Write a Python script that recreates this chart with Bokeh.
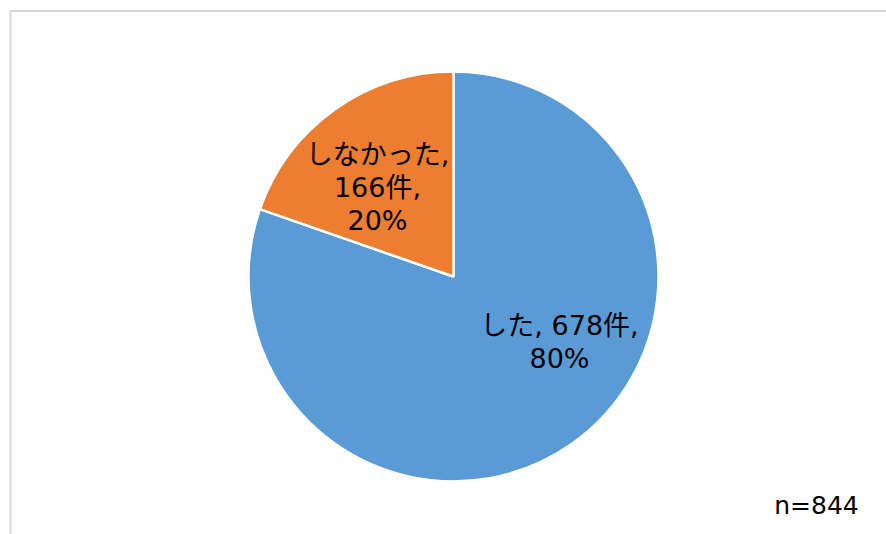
import math
from bokeh.plotting import figure
from bokeh.models import ColumnDataSource
from bokeh.core.properties import value
from bokeh.embed import file_html
from bokeh.resources import INLINE

categories = ["した", "しなかった"]
counts = [678, 166]
colors = ["#5B9BD5", "#ED7D31"]
note = "n=844"

total = sum(counts)
W, H = 886, 534
cx, cy, r = 453, H - 276, 205

starts, ends = [], []
a = math.pi / 2
for c in counts:
    starts.append(a)
    a -= 2 * math.pi * c / total
    ends.append(a)

src = ColumnDataSource(dict(cat=categories, cnt=counts, color=colors,
                            start=starts, end=ends))

p = figure(width=W, height=H, x_range=(0, W), y_range=(0, H),
           output_backend="svg", toolbar_location=None, min_border=0,
           outline_line_color=None)
p.axis.visible = False
p.grid.visible = False
p.background_fill_color = "white"
p.border_fill_color = "white"

# chart area border
p.line(x=[10, 10, W + 5], y=[-5, H - 10.5, H - 10.5], line_color="#D9D9D9", line_width=2)

p.wedge(x=cx, y=cy, radius=r, start_angle="start", end_angle="end",
        direction="clock", fill_color="color", line_color="white",
        line_width=2.5, source=src)

FONT = value("DejaVu Sans, Noto Sans CJK JP")

lines_per_label = []
for cat, c in zip(categories, counts):
    pct = round(100 * c / total)
    lines_per_label.append((cat, c, pct))

# label placement (layout)
blue_lines = [f"{lines_per_label[0][0]}, {lines_per_label[0][1]}件,", f"{lines_per_label[0][2]}%"]
orange_lines = [f"{lines_per_label[1][0]},", f"{lines_per_label[1][1]}件,", f"{lines_per_label[1][2]}%"]
layout = [((559, 325), blue_lines), ((377, 154), orange_lines)]
step = 33
for (x, ytop), lines in layout:
    ys = [H - (ytop + i * step) for i in range(len(lines))]
    p.text(x=[x] * len(lines), y=ys, text=lines, text_align="center",
           text_baseline="middle", text_font=FONT, text_font_size="27px",
           text_color="#000000")

p.text(x=[816], y=[H - 505], text=[note], text_align="center", text_baseline="middle",
       text_font=FONT, text_font_size="25px", text_color="#000000")

open("out.html", "w").write(file_html(p, INLINE))
